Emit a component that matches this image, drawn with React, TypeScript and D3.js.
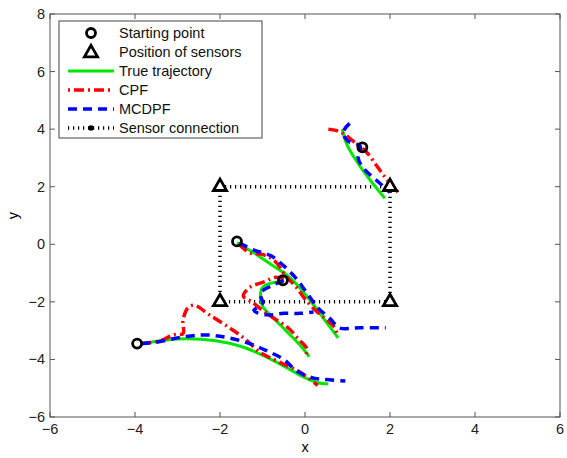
import React, { useRef, useEffect } from "react";
import * as d3 from "d3";

type Pt = [number, number];

const xTicks = [-6, -4, -2, 0, 2, 4, 6];
const yTicks = [-6, -4, -2, 0, 2, 4, 6, 8];

const sensors: Pt[] = [[-2, 2], [2, 2], [2, -2], [-2, -2]];
const startPoints: Pt[] = [[1.35, 3.37], [-1.6, 0.1], [-0.52, -1.25], [-3.95, -3.45]];

// true trajectories
const true1: Pt[] = [[0.88, 4.0], [0.95, 3.6], [1.1, 3.15], [1.3, 2.7], [1.55, 2.2], [1.88, 1.6]];
const true2: Pt[] = [[-1.6, 0.05], [-1.2, -0.3], [-0.8, -0.7], [-0.4, -1.1], [-0.1, -1.55], [0.2, -2.1], [0.5, -2.7], [0.78, -3.25]];
const true3: Pt[] = [[-0.5, -1.3], [-0.8, -1.35], [-1.0, -1.5], [-1.05, -1.8], [-1.0, -2.15], [-0.75, -2.55], [-0.45, -3.0], [-0.15, -3.45], [0.1, -3.9]];
const true4: Pt[] = [[-3.85, -3.45], [-3.3, -3.33], [-2.78, -3.28], [-2.1, -3.35], [-1.5, -3.55], [-1.0, -3.85], [-0.45, -4.27], [-0.05, -4.6], [0.28, -4.8], [0.55, -4.85]];

// CPF estimates
const cpf1: Pt[] = [[0.55, 4.0], [0.75, 3.95], [0.95, 3.8], [1.2, 3.5], [1.45, 3.2], [1.7, 2.7], [1.95, 2.2], [2.2, 1.8]];
const cpf2: Pt[] = [[-1.55, 0.0], [-1.3, -0.3], [-1.0, -0.35], [-0.7, -0.6], [-0.45, -1.1], [-0.2, -1.5], [0.0, -1.9], [0.25, -2.3], [0.5, -2.6], [0.7, -2.9], [0.75, -3.1]];
const cpf3: Pt[] = [[-0.5, -1.2], [-0.7, -1.15], [-0.95, -1.3], [-1.3, -1.5], [-1.45, -1.8], [-1.25, -2.0], [-1.0, -2.3], [-0.7, -2.6], [-0.4, -2.9], [-0.15, -3.3], [0.05, -3.65], [0.0, -3.9]];
const cpf4: Pt[] = [[-3.85, -3.45], [-3.4, -3.35], [-3.1, -3.15], [-2.87, -3.1], [-2.87, -2.64], [-2.75, -2.2], [-2.6, -2.12], [-2.24, -2.46], [-1.76, -2.92], [-1.4, -3.3], [-1.06, -3.75], [-0.59, -4.1], [-0.12, -4.44], [0.3, -4.9]];

// MCDPF estimates
const mcd1: Pt[] = [[1.05, 4.2], [0.9, 3.9], [1.0, 3.6], [1.3, 3.4], [1.25, 3.0], [1.4, 2.6], [1.7, 2.2], [2.0, 1.8]];
const mcd2: Pt[] = [[-1.55, 0.05], [-1.2, -0.2], [-0.8, -0.4], [-0.5, -0.75], [-0.2, -1.2], [0.0, -1.6], [0.3, -2.2], [0.6, -2.6], [0.8, -2.9], [1.3, -2.9], [1.9, -2.9]];
const mcd3: Pt[] = [[-0.5, -1.25], [-0.8, -1.45], [-1.05, -1.7], [-1.0, -2.05], [-1.2, -2.3], [-0.9, -2.45], [-0.5, -2.4], [-0.1, -2.4], [0.2, -2.35]];
const mcd4: Pt[] = [[-3.85, -3.45], [-3.5, -3.4], [-2.8, -3.2], [-2.3, -3.15], [-1.8, -3.25], [-1.3, -3.45], [-0.9, -3.7], [-0.5, -4.0], [-0.2, -4.4], [0.2, -4.65], [0.5, -4.7], [0.95, -4.75]];

const trueTracks = [true1, true2, true3, true4];
const cpfTracks = [cpf1, cpf2, cpf3, cpf4];
const mcdTracks = [mcd1, mcd2, mcd3, mcd4];

const legendLabels = ["Starting point", "Position of sensors", "True trajectory", "CPF", "MCDPF", "Sensor connection"];

const width = 567;
const height = 458;
const font = "Liberation Sans, Arial, sans-serif";

export default function App() {
  const svgRef = useRef<SVGSVGElement>(null);

  useEffect(() => {
    if (!svgRef.current) return;
    const svg = d3.select(svgRef.current);
    svg.selectAll("*").remove();

    const left = 50, right = 560, top = 14, bottom = 417;
    const x = d3.scaleLinear().domain([-6, 6]).range([left, right]);
    const y = d3.scaleLinear().domain([-6, 8]).range([bottom, top]);

    svg.append("rect").attr("width", width).attr("height", height).attr("fill", "#fff");

    const axisColor = "#555";
    // axes box
    svg.append("rect")
      .attr("x", left).attr("y", top)
      .attr("width", right - left).attr("height", bottom - top)
      .attr("fill", "none").attr("stroke", axisColor).attr("stroke-width", 1);

    xTicks.forEach((t) => {
      svg.append("line").attr("x1", x(t)).attr("x2", x(t)).attr("y1", bottom).attr("y2", bottom - 5)
        .attr("stroke", axisColor);
      svg.append("line").attr("x1", x(t)).attr("x2", x(t)).attr("y1", top).attr("y2", top + 5)
        .attr("stroke", axisColor);
      svg.append("text").attr("x", x(t)).attr("y", bottom + 17)
        .attr("text-anchor", "middle").style("font-family", font).style("font-size", "14.5px")
        .style("fill", "#222").text(t < 0 ? `\u2212${-t}` : `${t}`);
    });
    yTicks.forEach((t) => {
      svg.append("line").attr("x1", left).attr("x2", left + 5).attr("y1", y(t)).attr("y2", y(t))
        .attr("stroke", axisColor);
      svg.append("line").attr("x1", right).attr("x2", right - 5).attr("y1", y(t)).attr("y2", y(t))
        .attr("stroke", axisColor);
      svg.append("text").attr("x", left - 5).attr("y", y(t) + 5)
        .attr("text-anchor", "end").style("font-family", font).style("font-size", "14.5px")
        .style("fill", "#222").text(t < 0 ? `\u2212${-t}` : `${t}`);
    });

    svg.append("text").attr("x", (left + right) / 2).attr("y", 452)
      .attr("text-anchor", "middle").style("font-family", font).style("font-size", "14.5px").text("x");
    svg.append("text").attr("transform", `translate(18,${(top + bottom) / 2}) rotate(-90)`)
      .attr("text-anchor", "middle").style("font-family", font).style("font-size", "14.5px").text("y");

    const plot = svg.append("g");

    // sensor connection (dotted square)
    const sq = [...sensors, sensors[0]];
    plot.append("path")
      .attr("d", d3.line<Pt>().x((d) => x(d[0])).y((d) => y(d[1]))(sq))
      .attr("fill", "none").attr("stroke", "#000").attr("stroke-width", 3.5)
      .attr("stroke-dasharray", "1.2,3.8");

    const smooth = d3.line<Pt>().x((d) => x(d[0])).y((d) => y(d[1])).curve(d3.curveCatmullRom.alpha(0.5));

    trueTracks.forEach((tr) => {
      plot.append("path").attr("d", smooth(tr)).attr("fill", "none")
        .attr("stroke", "#00e600").attr("stroke-width", 3);
    });
    cpfTracks.forEach((tr) => {
      plot.append("path").attr("d", smooth(tr)).attr("fill", "none")
        .attr("stroke", "#ff0000").attr("stroke-width", 3.5).attr("stroke-dasharray", "10,4,2,4");
    });
    mcdTracks.forEach((tr) => {
      plot.append("path").attr("d", smooth(tr)).attr("fill", "none")
        .attr("stroke", "#0000ff").attr("stroke-width", 3.5).attr("stroke-dasharray", "9,6");
    });

    const tri = d3.symbol().type(d3.symbolTriangle).size(75);
    sensors.forEach((s) => {
      plot.append("path").attr("d", tri()).attr("transform", `translate(${x(s[0])},${y(s[1])})`)
        .attr("fill", "#fff").attr("stroke", "#000").attr("stroke-width", 2.8);
    });
    startPoints.forEach((s) => {
      plot.append("circle").attr("cx", x(s[0])).attr("cy", y(s[1])).attr("r", 4.5)
        .attr("fill", "none").attr("stroke", "#000").attr("stroke-width", 2.8);
    });

    // legend
    const lg = svg.append("g");
    lg.append("rect").attr("x", 59).attr("y", 21).attr("width", 203).attr("height", 117)
      .attr("fill", "#fff").attr("stroke", "#444").attr("stroke-width", 1);
    const rowY = (i: number) => 33 + i * 19;
    const lx1 = 68, lx2 = 114, lmid = 91;
    legendLabels.forEach((lab, i) => {
      lg.append("text").attr("x", 119).attr("y", rowY(i) + 5)
        .style("font-family", font).style("font-size", "14.5px").style("fill", "#111").text(lab);
    });
    lg.append("circle").attr("cx", lmid).attr("cy", rowY(0)).attr("r", 4.5)
      .attr("fill", "none").attr("stroke", "#000").attr("stroke-width", 2.8);
    lg.append("path").attr("d", tri()).attr("transform", `translate(${lmid},${rowY(1) + 1})`)
      .attr("fill", "#fff").attr("stroke", "#000").attr("stroke-width", 2.8);
    lg.append("line").attr("x1", lx1).attr("x2", lx2).attr("y1", rowY(2)).attr("y2", rowY(2))
      .attr("stroke", "#00e600").attr("stroke-width", 3);
    lg.append("line").attr("x1", lx1).attr("x2", lx2).attr("y1", rowY(3)).attr("y2", rowY(3))
      .attr("stroke", "#ff0000").attr("stroke-width", 3.5).attr("stroke-dasharray", "2,4,10,4");
    lg.append("line").attr("x1", lx1).attr("x2", lx2).attr("y1", rowY(4)).attr("y2", rowY(4))
      .attr("stroke", "#0000ff").attr("stroke-width", 3.5).attr("stroke-dasharray", "9,6");
    lg.append("line").attr("x1", lx1).attr("x2", lx2).attr("y1", rowY(5)).attr("y2", rowY(5))
      .attr("stroke", "#000").attr("stroke-width", 3.5).attr("stroke-dasharray", "1.2,3.8");
    lg.append("circle").attr("cx", lmid).attr("cy", rowY(5)).attr("r", 2.8).attr("fill", "#000");
  }, []);

  return (
    <svg
      ref={svgRef}
      width={width}
      height={height}
      viewBox={`0 0 ${width} ${height}`}
      style={{ position: "absolute", left: 0, top: 0 }}
    />
  );
}
